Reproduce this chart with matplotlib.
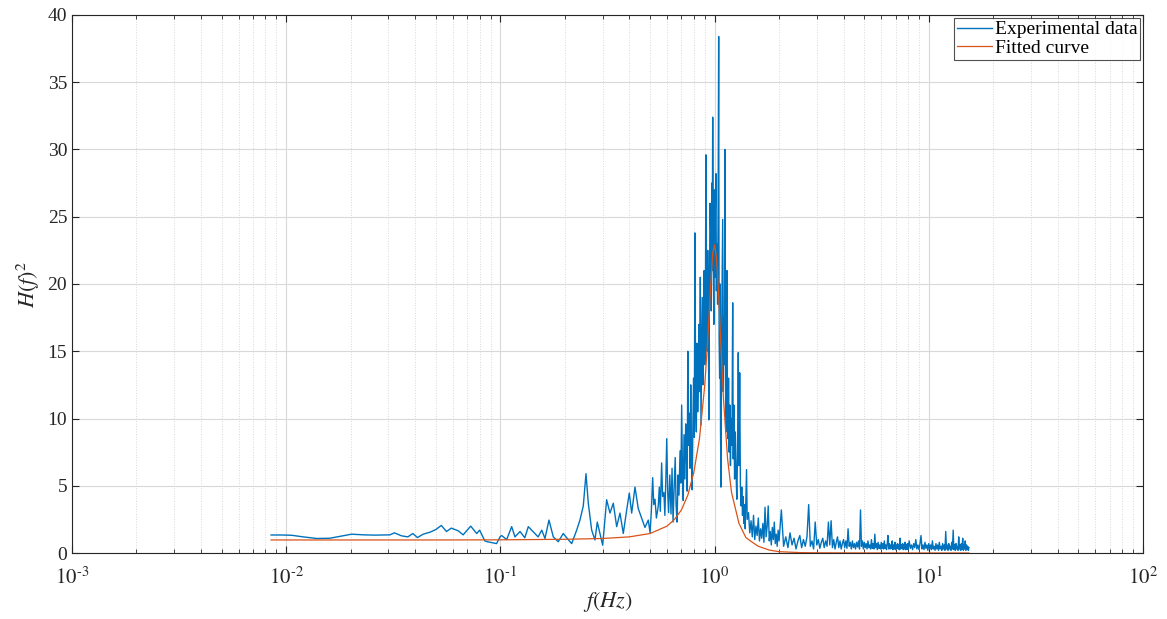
import numpy as np
import matplotlib
matplotlib.use("Agg")
import matplotlib.pyplot as plt
from matplotlib.ticker import LogLocator, NullFormatter, FixedLocator, FuncFormatter

plt.rcParams['font.family'] = ['Liberation Serif', 'DejaVu Serif']
plt.rcParams['mathtext.fontset'] = 'stix'

# --- experimental data, read off the picture ---
# low frequency part (smooth)
f_low = [0.0085, 0.0095, 0.0106, 0.012, 0.0139, 0.016, 0.018, 0.0202, 0.023, 0.026,
         0.0295, 0.0305, 0.032, 0.0345, 0.037, 0.039, 0.041, 0.0436, 0.047, 0.050,
         0.053, 0.056, 0.059, 0.0636, 0.067, 0.0727, 0.0775, 0.080, 0.0846, 0.0863,
         0.0927, 0.096, 0.0996]
h_low = [1.34, 1.34, 1.32, 1.2, 1.08, 1.1, 1.25, 1.4, 1.35, 1.33,
         1.34, 1.35, 1.5, 1.28, 1.2, 1.45, 1.15, 1.4, 1.55, 1.75,
         2.05, 1.6, 1.85, 1.65, 1.35, 2.0, 1.45, 1.7, 0.9, 0.85,
         0.75, 0.7, 1.2]

# 0.1 - 0.5 Hz
f_mid = [0.1014, 0.107, 0.1129, 0.117, 0.1235, 0.130, 0.135, 0.140, 0.145, 0.150,
         0.156, 0.1615, 0.1686, 0.1766, 0.1863, 0.1966, 0.2053, 0.2152, 0.2271, 0.2352,
         0.2438, 0.251, 0.2573, 0.2668, 0.2764, 0.2834, 0.2917, 0.3003, 0.3134, 0.3248,
         0.3366, 0.3491, 0.3617, 0.3748, 0.3888, 0.3998, 0.4102, 0.4250, 0.4403, 0.4567,
         0.4732, 0.4903]
h_mid = [1.3, 1.0, 1.96, 1.2, 1.6, 1.13, 1.96, 1.7, 1.45, 1.2,
         1.7, 1.08, 2.45, 1.2, 0.84, 1.45, 1.08, 0.7, 1.7, 2.45,
         3.5, 5.9, 3.7, 1.7, 0.97, 2.3, 1.45, 0.58, 3.96, 2.97,
         3.7, 1.96, 2.97, 1.45, 3.2, 4.46, 2.97, 4.9, 3.3, 2.6,
         1.9, 2.45]

# resonance region 0.5 - 2 Hz
f_peak = [0.5, 0.507, 0.514, 0.52, 0.527, 0.535, 0.546, 0.552, 0.558, 0.566,
          0.572, 0.58, 0.586, 0.592, 0.598, 0.604, 0.61, 0.618, 0.626, 0.633,
          0.64, 0.647, 0.655, 0.661, 0.668, 0.675, 0.682, 0.69, 0.696, 0.702,
          0.708, 0.714, 0.72, 0.727, 0.733, 0.74, 0.745, 0.75, 0.756, 0.762,
          0.768, 0.774, 0.78, 0.786, 0.792, 0.798, 0.804, 0.81, 0.816, 0.822,
          0.828, 0.834, 0.84, 0.846, 0.852, 0.858, 0.864, 0.87, 0.876, 0.882,
          0.888, 0.894, 0.9, 0.906, 0.911, 0.917, 0.923, 0.929, 0.935, 0.94,
          0.946, 0.952, 0.959, 0.965, 0.97, 0.975, 0.98, 0.986, 0.992, 0.997,
          1.003, 1.009, 1.015, 1.02, 1.027, 1.033, 1.039, 1.045, 1.05, 1.056,
          1.062, 1.066, 1.071, 1.077, 1.083, 1.091, 1.097, 1.103, 1.11, 1.118,
          1.124, 1.13, 1.136, 1.142, 1.148, 1.155, 1.162, 1.17, 1.178, 1.186,
          1.195, 1.205, 1.215, 1.222, 1.23, 1.24, 1.25, 1.26, 1.27, 1.28,
          1.29, 1.3, 1.31, 1.32, 1.33, 1.34, 1.35, 1.36, 1.37, 1.38,
          1.39, 1.41, 1.42, 1.44, 1.46, 1.48, 1.5, 1.52, 1.54, 1.56,
          1.58, 1.6, 1.62, 1.64, 1.66, 1.68, 1.7, 1.72, 1.74, 1.76,
          1.78, 1.8, 1.82, 1.84, 1.86, 1.88, 1.9, 1.92, 1.94, 1.96,
          1.98, 2.0]
h_peak = [1.5, 3.2, 5.6, 3.6, 4.0, 2.6, 3.5, 4.9, 3.1, 6.7,
          4.2, 4.5, 2.8, 5.4, 8.5, 4.6, 3.0, 5.8, 2.9, 6.3,
          2.3, 4.7, 7.1, 3.6, 2.3, 5.8, 4.3, 7.6, 5.2, 11.0,
          6.1, 3.9, 8.8, 5.5, 9.6, 7.0, 4.6, 15.0, 8.0, 10.4,
          6.3, 12.5, 7.4, 4.7, 9.5, 13.0, 8.6, 23.8, 11.0, 9.0,
          15.6, 10.5, 13.0, 17.0, 12.0, 20.5, 9.5, 14.5, 19.0, 12.5,
          16.0, 21.0, 14.0, 18.0, 29.6, 20.0, 15.0, 22.5, 17.5, 9.9,
          19.0, 26.0, 24.0, 18.0, 27.5, 21.0, 32.4, 22.0, 17.0, 27.0,
          20.5, 25.5, 28.2, 19.5, 23.0, 18.5, 26.0, 38.4, 16.0, 13.0,
          20.0, 9.0, 4.9, 15.0, 19.0, 24.8, 12.0, 17.5, 14.0, 30.0,
          13.0, 9.0, 16.0, 21.0, 11.0, 8.5, 13.0, 7.5, 11.0, 6.5,
          10.0, 8.0, 18.6, 7.0, 11.0, 5.5, 9.0, 6.0, 4.0, 7.5,
          14.9, 6.5, 13.4, 5.0, 3.5, 4.9, 2.8, 4.2, 2.2, 3.6,
          1.8, 6.2, 2.5, 3.0, 1.5, 2.4, 1.2, 2.8, 1.0, 2.0,
          1.3, 2.6, 0.9, 1.8, 1.1, 2.2, 0.8, 3.4, 1.2, 2.0,
          3.5, 0.9, 1.6, 0.6, 1.9, 1.0, 2.3, 0.7, 1.4, 0.5,
          1.7, 0.9]

# 2.05 - 4.0 Hz, 0.05 Hz steps
f_hi1 = np.arange(41, 81) * 0.05
h_hi1 = [3.2, 0.5, 1.2, 0.4, 1.5, 0.6, 1.1, 0.3, 0.9, 1.3,
         0.4, 1.0, 0.5, 1.2, 3.6, 0.5, 0.9, 0.3, 2.3, 0.6,
         1.0, 0.35, 0.8, 1.1, 0.4, 0.9, 0.5, 2.3, 0.6, 2.4,
         0.4, 1.0, 0.3, 0.8, 1.2, 0.4, 0.9, 0.3, 0.7, 1.0]

# 4.05 - 8.0 Hz, 0.05 Hz steps
f_hi2 = np.arange(81, 161) * 0.05
h_hi2 = [0.4, 0.9, 0.35, 1.8, 0.5, 0.8, 0.3, 0.9, 0.4, 0.7,
         0.3, 0.8, 0.45, 0.9, 0.3, 3.2, 0.5, 0.9, 0.3, 0.8,
         0.4, 0.7, 0.3, 0.9, 0.4, 0.6, 0.3, 1.0, 0.35, 0.7,
         0.3, 1.4, 0.4, 0.7, 0.25, 0.8, 0.35, 0.6, 0.3, 0.8,
         0.35, 0.7, 0.3, 0.9, 0.35, 0.6, 0.25, 0.7, 1.3, 0.3,
         0.7, 0.3, 0.6, 0.35, 0.9, 0.25, 0.6, 0.3, 0.8, 0.25,
         0.6, 0.35, 0.7, 0.3, 0.6, 0.25, 1.1, 0.3, 0.6, 0.35,
         0.7, 0.25, 0.6, 0.3, 0.8, 0.25, 0.6, 0.3, 0.7, 0.25]

# 8.1 - 15.4 Hz, 0.1 Hz steps
f_hi3 = np.arange(81, 155) * 0.1
h_hi3 = [0.9, 0.35, 0.6, 0.25, 0.7, 0.4, 1.0, 0.3, 0.6, 0.25,
         0.7, 1.3, 0.3, 0.6, 0.25, 0.8, 0.35, 0.6, 0.2, 0.7,
         0.3, 0.6, 0.25, 0.9, 0.3, 0.5, 0.2, 0.7, 0.3, 0.6,
         0.2, 0.8, 0.3, 0.5, 0.2, 0.7, 0.3, 0.6, 0.2, 1.6,
         0.3, 0.6, 0.2, 0.7, 0.3, 0.5, 0.2, 0.8, 0.3, 1.7,
         0.25, 0.6, 0.2, 0.7, 0.3, 0.5, 0.2, 1.2, 0.3, 0.6,
         0.2, 0.7, 0.3, 1.1, 0.2, 0.6, 0.3, 0.9, 0.2, 0.6,
         0.3, 0.5, 0.2, 0.4]

# --- fitted curve ---
f_fit = [0.0085, 0.02, 0.05, 0.1, 0.2, 0.3, 0.4, 0.5, 0.6, 0.65,
         0.7, 0.75, 0.8, 0.85, 0.9, 0.93, 0.96, 0.98, 1.0, 1.02,
         1.04, 1.07, 1.1, 1.15, 1.2, 1.3, 1.4, 1.5, 1.6, 1.8,
         2.0, 2.5, 3.0, 5.0, 10.0, 15.4]
h_fit = [0.97, 0.97, 0.97, 0.98, 1.02, 1.08, 1.2, 1.45, 2.0, 2.5,
         3.2, 4.3, 6.0, 8.5, 12.5, 16.0, 20.0, 22.3, 22.9, 22.0,
         19.8, 15.5, 11.5, 7.0, 4.5, 2.2, 1.15, 0.8, 0.5, 0.22,
         0.1, 0.03, 0.015, 0.005, 0.001, 0.0]

f_exp = np.concatenate([f_low, f_mid, f_peak, f_hi1, f_hi2, f_hi3])
h_exp = np.concatenate([h_low, h_mid, h_peak, h_hi1, h_hi2, h_hi3])

fig = plt.figure(figsize=(11.67, 6.19), dpi=100)
ax = fig.add_axes([0.0617, 0.1066, 0.9177, 0.8692])

ax.plot(f_exp, h_exp, color='#0072BD', lw=1.0, label='Experimental data')
ax.plot(f_fit, h_fit, color='#D95319', lw=0.9, label='Fitted curve')

ax.set_xscale('log')
ax.set_xlim(1e-3, 1e2)
ax.set_ylim(0, 40)
ax.yaxis.set_major_locator(FixedLocator(np.arange(0, 41, 5)))
ax.xaxis.set_major_locator(LogLocator(base=10, numticks=10))
ax.xaxis.set_minor_locator(LogLocator(base=10, subs=np.arange(2, 10), numticks=20))
ax.xaxis.set_minor_formatter(NullFormatter())


def dec_label(v, pos):
    e = int(round(np.log10(v)))
    if e < 0:
        return r'$10^{\text{-}%d}$' % (-e)
    return r'$10^{%d}$' % e


ax.xaxis.set_major_formatter(FuncFormatter(dec_label))

ax.grid(True, which='major', color='#d9d9d9', lw=0.8, ls='-')
ax.grid(True, which='minor', axis='x', color='#d9d9d9', lw=0.7, ls=':')
ax.set_axisbelow(True)

ax.tick_params(which='both', direction='in', top=True, right=True, labelsize=14, colors='#262626')
ax.tick_params(which='major', length=5)
ax.tick_params(which='minor', length=3)
ax.tick_params(axis='x', which='major', pad=10, labelsize=15)
for s in ax.spines.values():
    s.set_color('#262626')
    s.set_linewidth(0.8)

ax.set_xlabel(r'$f(Hz)$', fontsize=16, color='#262626', labelpad=1)
ax.set_ylabel(r'$H(f)^2$', fontsize=16, color='#262626', labelpad=4)

leg = ax.legend(loc='upper right', fontsize=14, frameon=True, fancybox=False,
                edgecolor='#262626', borderaxespad=0.15, handlelength=1.8,
                handletextpad=0.15, borderpad=0.15, labelspacing=0.05)
leg.get_frame().set_linewidth(0.8)

fig.savefig('out.png', dpi=100)
